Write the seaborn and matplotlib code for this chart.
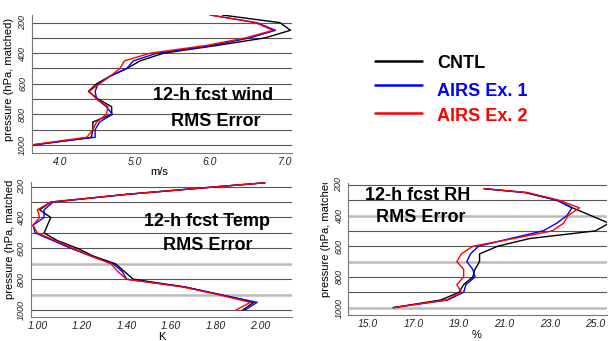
import numpy as np
import pandas as pd
import matplotlib
matplotlib.use('Agg')
import matplotlib.pyplot as plt
from matplotlib.lines import Line2D
from matplotlib.transforms import Bbox, TransformedBbox
import seaborn as sns

# runs shown in every panel
runs = ['CNTL', 'AIRS Ex. 1', 'AIRS Ex. 2']
run_colors = ['#000000', '#0000ff', '#ff0000']

# 12-h forecast wind RMS error (m/s)
wind_levels = [150, 200, 250, 300, 350, 400, 450, 500, 550, 600, 650, 700, 750, 800, 850, 900, 950, 1000]
wind_cntl = [6.16, 6.93, 7.07, 6.73, 6.08, 5.38, 5.07, 4.89, 4.67, 4.49, 4.38, 4.51, 4.69, 4.69, 4.44, 4.44, 4.42, 3.66]
wind_ex1 = [6.00, 6.62, 6.87, 6.53, 6.02, 5.29, 4.98, 4.89, 4.67, 4.51, 4.47, 4.49, 4.62, 4.70, 4.53, 4.47, 4.47, 3.64]
wind_ex2 = [6.00, 6.60, 6.84, 6.47, 5.94, 5.20, 4.86, 4.80, 4.67, 4.53, 4.39, 4.49, 4.64, 4.62, 4.49, 4.44, 4.36, 3.62]

# 12-h forecast temperature RMS error (K)
temp_levels = [175, 200, 250, 300, 350, 400, 450, 500, 550, 600, 650, 700, 750, 800, 850, 900, 950, 1000]
temp_cntl = [2.02, 1.81, 1.40, 1.06, 1.01, 1.06, 1.045, 1.03, 1.09, 1.18, 1.25, 1.35, 1.39, 1.43, 1.66, 1.82, 1.97, 1.92]
temp_ex1 = [2.02, 1.81, 1.40, 1.07, 1.03, 1.03, 0.98, 0.99, 1.07, 1.15, 1.24, 1.34, 1.38, 1.40, 1.66, 1.82, 1.985, 1.93]
temp_ex2 = [2.02, 1.81, 1.40, 1.06, 1.00, 1.01, 0.98, 1.00, 1.08, 1.16, 1.24, 1.33, 1.36, 1.40, 1.65, 1.81, 1.955, 1.89]

# 12-h forecast RH RMS error (%)
rh_levels = [225, 250, 300, 350, 400, 450, 500, 550, 600, 650, 700, 750, 800, 850, 900, 950, 1000]
rh_cntl = [20.1, 21.9, 23.3, 24.0, 24.8, 25.6, 25.0, 22.1, 20.7, 19.9, 19.9, 19.7, 19.6, 19.2, 19.0, 18.2, 16.1]
rh_ex1 = [20.1, 21.9, 23.3, 23.97, 23.75, 23.3, 22.7, 21.25, 19.85, 19.5, 19.34, 19.6, 19.7, 19.3, 19.2, 18.5, 16.1]
rh_ex2 = [20.1, 22.0, 23.4, 24.3, 23.8, 23.6, 23.1, 21.4, 19.6, 19.1, 18.9, 19.2, 19.2, 18.9, 19.1, 18.45, 16.1]


def to_long(levels, series):
    frames = []
    for run, vals in zip(runs, series):
        frames.append(pd.DataFrame({'pressure': levels, 'value': vals, 'run': run}))
    return pd.concat(frames, ignore_index=True)


df_wind = to_long(wind_levels, [wind_cntl, wind_ex1, wind_ex2])
df_temp = to_long(temp_levels, [temp_cntl, temp_ex1, temp_ex2])
df_rh = to_long(rh_levels, [rh_cntl, rh_ex1, rh_ex2])

sns.set_style('white')
plt.rcParams['font.family'] = ['Liberation Sans', 'DejaVu Sans']
plt.rcParams['text.color'] = 'black'
plt.rcParams['axes.labelcolor'] = 'black'

W, H = 610, 341
fig = plt.figure(figsize=(W / 100, H / 100), dpi=100)


def px_axes(left, top, right, bottom):
    return fig.add_axes([left / W, 1 - bottom / H, (right - left) / W, (bottom - top) / H])


def draw_panel(ax, df, xlim, ylim, major, minor, fmt, xlabel, xlab_pos, ylab_pos,
               light_levels=(), clip_top=None):
    for p in range(200, 1001, 100):
        if p in light_levels:
            ax.axhline(p, color='#bbbbbb', lw=1.8, zorder=0)
        else:
            ax.axhline(p, color='#555555', lw=0.8, zorder=0)
    sns.lineplot(data=df, x='value', y='pressure', hue='run', hue_order=runs,
                 palette=run_colors, orient='y', estimator=None, legend=False,
                 lw=1.0, ax=ax)
    ax.set_xlim(*xlim)
    ax.set_ylim(*ylim)
    sns.despine(ax=ax)
    for s in ['left', 'bottom']:
        ax.spines[s].set_color('#777777')
        ax.spines[s].set_linewidth(0.8)

    ax.set_xticks(major)
    ax.set_xticklabels([fmt.format(v) for v in major], fontstyle='italic', fontsize=7.5)
    ax.set_xticks(minor, minor=True)
    ax.tick_params(axis='x', which='major', length=0, pad=3, labelcolor='#222222')
    ax.tick_params(axis='x', which='minor', length=4, width=0.8, color='#777777')

    ax.set_yticks([200, 400, 600, 800, 1000])
    ax.set_yticklabels(['200', '400', '600', '800', '1000'], rotation=90, va='center',
                       fontstyle='italic', fontsize=6.5)
    ax.set_yticks([300, 500, 700, 900], minor=True)
    ax.tick_params(axis='y', which='both', length=2.5, width=0.8, color='#777777',
                   pad=1, labelcolor='#222222')

    ax.set_xlabel(xlabel, fontsize=8)
    ax.xaxis.set_label_coords(*xlab_pos)
    ax.set_ylabel('pressure (hPa, matched)', fontsize=8)
    ax.yaxis.set_label_coords(*ylab_pos)
    if clip_top is not None:
        lab = ax.yaxis.label
        lab.set_clip_box(TransformedBbox(Bbox.from_extents(0, 0, 1, 1 - clip_top / H), fig.transFigure))
        lab.set_clip_on(True)


def px_text(x, y, s, **kw):
    fig.text(x / W, 1 - y / H, s, ha='center', va='center', color='black', **kw)


# wind panel
ax_w = px_axes(32, 15, 292, 153)
draw_panel(ax_w, df_wind, (3.63, 7.09), (1053, 150), [4.0, 5.0, 6.0, 7.0], [4.5, 5.5, 6.5],
           '{:.1f}', 'm/s', (0.49, -0.105), (-0.068, 0.536))
px_text(213, 95, '12-h fcst wind', fontsize=13, fontweight='bold')
px_text(216, 121, 'RMS Error', fontsize=13, fontweight='bold')

# temperature panel
ax_t = px_axes(30.7, 182, 291.7, 316.7)
draw_panel(ax_t, df_temp, (0.97, 2.14), (1043, 170),
           [1.0, 1.2, 1.4, 1.6, 1.8, 2.0], [1.1, 1.3, 1.5, 1.7, 1.9, 2.1],
           '{:.2f}', 'K', (0.503, -0.115), (-0.06, 0.59),
           light_levels=(700, 900), clip_top=181)
px_text(207, 221, '12-h fcst Temp', fontsize=13, fontweight='bold')
px_text(208, 246, 'RMS Error', fontsize=13, fontweight='bold')

# RH panel
ax_r = px_axes(348.3, 183, 606.7, 315)
draw_panel(ax_r, df_rh, (14.12, 25.5), (1048, 188),
           [15.0, 17.0, 19.0, 21.0, 23.0, 25.0], [16.0, 18.0, 20.0, 22.0, 24.0],
           '{:.1f}', '%', (0.497, -0.115), (-0.068, 0.60),
           light_levels=(400, 700, 1000), clip_top=183)
px_text(418, 195, '12-h fcst RH', fontsize=13, fontweight='bold')
px_text(421, 218, 'RMS Error', fontsize=13, fontweight='bold')

# legend
for (label, color, ly, ty) in zip(runs, run_colors, [61, 85, 113], [64, 91, 117]):
    fig.add_artist(Line2D([375 / W, 422 / W], [1 - ly / H, 1 - ly / H], color=color, lw=1.8))
    fig.text(437 / W, 1 - ty / H, label, color=color, fontsize=13, fontweight='bold',
             ha='left', va='center')

fig.savefig('out.png', dpi=100)
